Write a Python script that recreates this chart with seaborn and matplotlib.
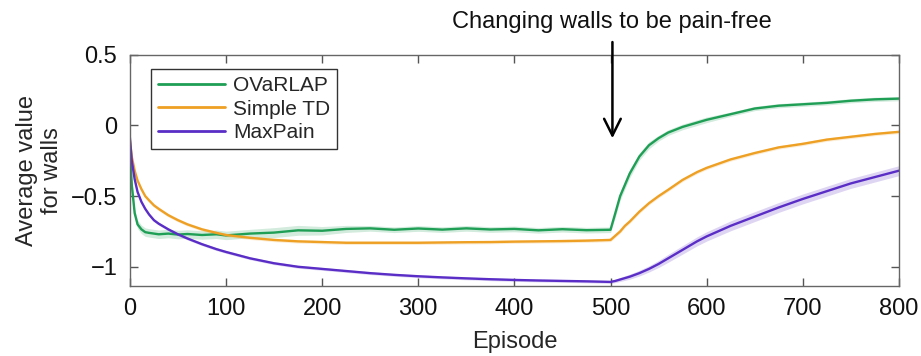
import numpy as np
import pandas as pd
import matplotlib
matplotlib.use("Agg")
import matplotlib.pyplot as plt
import seaborn as sns

# Episodes at which the curves were read
episodes = [0, 2, 5, 8, 12, 16, 20, 25, 30, 40, 50, 60, 75, 90, 100, 125, 150, 175,
            200, 225, 250, 275, 300, 325, 350, 375, 400, 425, 450, 475, 500, 505,
            510, 515, 520, 530, 540, 550, 560, 575, 590, 600, 625, 650, 675, 700,
            725, 750, 775, 800]

ovarlap = [-0.15, -0.42, -0.62, -0.70, -0.735, -0.755, -0.76, -0.765, -0.77, -0.765,
           -0.772, -0.768, -0.775, -0.77, -0.778, -0.765, -0.758, -0.742, -0.745, -0.732,
           -0.728, -0.738, -0.729, -0.737, -0.728, -0.736, -0.732, -0.742, -0.734, -0.741,
           -0.738, -0.62, -0.50, -0.42, -0.34, -0.22, -0.14, -0.09, -0.05, -0.01,
           0.02, 0.04, 0.08, 0.12, 0.14, 0.15, 0.16, 0.175, 0.185, 0.19]
ovarlap_sd = [0.02, 0.03, 0.03, 0.03, 0.03, 0.03, 0.03, 0.03, 0.03, 0.03,
              0.03, 0.03, 0.03, 0.03, 0.03, 0.03, 0.035, 0.035, 0.03, 0.025,
              0.02, 0.02, 0.02, 0.02, 0.02, 0.02, 0.02, 0.02, 0.02, 0.02,
              0.02, 0.03, 0.03, 0.03, 0.03, 0.025, 0.025, 0.02, 0.02, 0.02,
              0.02, 0.02, 0.015, 0.015, 0.015, 0.015, 0.015, 0.015, 0.015, 0.015]

simple_td = [-0.10, -0.22, -0.32, -0.39, -0.45, -0.50, -0.53, -0.565, -0.59, -0.635,
             -0.67, -0.70, -0.735, -0.76, -0.775, -0.795, -0.81, -0.82, -0.825, -0.83,
             -0.83, -0.83, -0.83, -0.828, -0.826, -0.825, -0.822, -0.82, -0.818, -0.815,
             -0.81, -0.78, -0.75, -0.71, -0.68, -0.61, -0.55, -0.50, -0.455, -0.385,
             -0.33, -0.30, -0.24, -0.195, -0.155, -0.13, -0.10, -0.08, -0.06, -0.045]
simple_td_sd = [0.012] * len(episodes)

maxpain = [-0.085, -0.25, -0.38, -0.47, -0.54, -0.59, -0.63, -0.67, -0.695, -0.735,
           -0.77, -0.80, -0.84, -0.875, -0.895, -0.94, -0.975, -1.0, -1.015, -1.03,
           -1.045, -1.057, -1.067, -1.075, -1.082, -1.088, -1.093, -1.097, -1.10, -1.103,
           -1.107, -1.10, -1.09, -1.08, -1.07, -1.045, -1.015, -0.98, -0.94, -0.88,
           -0.82, -0.785, -0.71, -0.645, -0.58, -0.52, -0.465, -0.41, -0.365, -0.32]
maxpain_sd = [0.01] * 31 + [0.012, 0.014, 0.016, 0.018, 0.02, 0.022, 0.025, 0.028,
                            0.03, 0.032, 0.033, 0.035, 0.035, 0.035, 0.035, 0.035,
                            0.035, 0.035, 0.035]

series = {"OVaRLAP": (ovarlap, ovarlap_sd),
          "Simple TD": (simple_td, simple_td_sd),
          "MaxPain": (maxpain, maxpain_sd)}
colors = {"OVaRLAP": "#1f9e55", "Simple TD": "#eea024", "MaxPain": "#5a2ec6"}

rows = []
for name, (vals, _) in series.items():
    for e, v in zip(episodes, vals):
        rows.append({"Episode": e, "value": v, "method": name})
df = pd.DataFrame(rows)

sns.set_style("ticks")
plt.rcParams["font.family"] = ["Liberation Sans", "DejaVu Sans"]

fig = plt.figure(figsize=(9.21, 3.56), dpi=100)
ax = fig.add_axes([0.141, 0.197, 0.835, 0.649])

# shaded bands
for name, (vals, sd) in series.items():
    v = np.array(vals)
    s = np.array(sd)
    ax.fill_between(episodes, v - s, v + s, color=colors[name], alpha=0.2, lw=0)

sns.lineplot(data=df, x="Episode", y="value", hue="method", palette=colors,
             linewidth=1.7, ax=ax)

ax.set_xlim(0, 800)
ax.set_ylim(-1.135, 0.5)
ax.set_xticks([0, 100, 200, 300, 400, 500, 600, 700, 800])
ax.set_yticks([-1, -0.5, 0, 0.5])
ax.set_yticklabels(["\u22121", "\u22120.5", "0", "0.5"])
ax.tick_params(direction="in", top=True, right=True, length=6, width=1,
               colors="#555555", labelcolor="#111111", labelsize=17, pad=9)
for sp in ax.spines.values():
    sp.set_color("#666666")
    sp.set_linewidth(1)

ax.set_xlabel("Episode", fontsize=17, labelpad=8)
ax.set_ylabel("Average value\nfor walls", fontsize=17, labelpad=6, linespacing=1.15)

leg = ax.legend(loc="upper left", bbox_to_anchor=(0.027, 0.94), fontsize=15,
                handlelength=3.2, borderpad=0.35, labelspacing=0.22,
                handletextpad=0.4, borderaxespad=0, fancybox=False, framealpha=1)
leg.get_frame().set_edgecolor("#333333")
leg.get_frame().set_linewidth(1)
for line in leg.get_lines():
    line.set_linewidth(2)

ax.annotate("", xy=(502, -0.11), xytext=(502, 0.61), annotation_clip=False,
            arrowprops=dict(arrowstyle="->", color="black", lw=1.8,
                            mutation_scale=30))
fig.text(0.664, 0.937, "Changing walls to be pain-free", fontsize=17,
         ha="center", va="center", color="#111111")

fig.savefig("out.png", dpi=100)
